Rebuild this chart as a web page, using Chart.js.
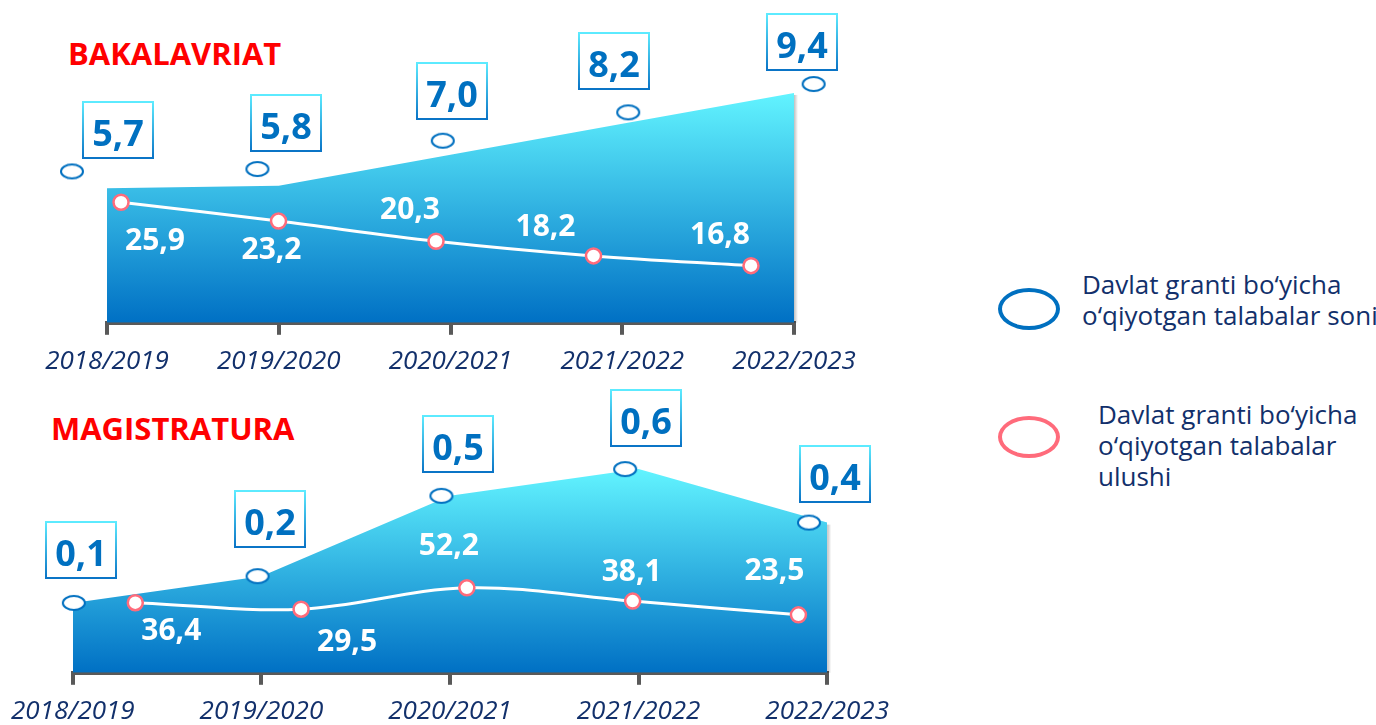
<!DOCTYPE html>
<html><head><meta charset="utf-8">
<script src="https://cdn.jsdelivr.net/npm/chart.js@4.4.1/dist/chart.umd.min.js"></script>
<style>
html,body{margin:0;padding:0;background:#fff;}
body{width:1376px;height:725px;overflow:hidden;position:relative;font-family:'Open Sans',sans-serif;}
.title{position:absolute;color:#FF0000;font-weight:700;font-size:31px;line-height:1;white-space:nowrap;}
.cv{position:absolute;left:0;}
.lgE{position:absolute;box-sizing:border-box;width:62px;height:42px;border-radius:50%;border:4px solid;}
.lgT{position:absolute;color:#12306B;font-size:26px;line-height:31px;white-space:nowrap;}
</style></head><body>
<div class="title" style="left:68px;top:38px">BAKALAVRIAT</div>
<div class="title" style="left:51px;top:413px">MAGISTRATURA</div>
<canvas id="c1" class="cv" style="top:0" width="900" height="388"></canvas>
<canvas id="c2" class="cv" style="top:385px" width="900" height="353"></canvas>
<div class="lgE" style="left:998px;top:288px;border-color:#0070C0"></div>
<div class="lgT" style="left:1082px;top:269px">Davlat granti bo‘yicha<br>o‘qiyotgan talabalar soni</div>
<div class="lgE" style="left:998px;top:416px;border-color:#FF6B7B"></div>
<div class="lgT" style="left:1098px;top:399px">Davlat granti bo‘yicha<br>o‘qiyotgan talabalar<br>ulushi</div>
<script>
// ---- data ----
const years = ['2018/2019', '2019/2020', '2020/2021', '2021/2022', '2022/2023'];
const bakSoni = [5.7, 5.8, 7.0, 8.2, 9.4];        // Davlat granti bo'yicha o'qiyotgan talabalar soni
const bakUlushi = [25.9, 23.2, 20.3, 18.2, 16.8]; // ... ulushi
const magSoni = [0.1, 0.2, 0.5, 0.6, 0.4];
const magUlushi = [36.4, 29.5, 52.2, 38.1, 23.5];

const NAVY = '#12306B', AX = '#595959', BLUE = '#0070C0', PINK = '#FF6B7B';
const fmt = v => v.toFixed(1).replace('.', ',');

function ellipseImg(stroke, fill, w, h, lw) {
  const c = document.createElement('canvas');
  c.width = w + lw * 2; c.height = h + lw * 2;
  const g = c.getContext('2d');
  g.beginPath();
  g.ellipse(c.width / 2, c.height / 2, w / 2, h / 2, 0, 0, Math.PI * 2);
  g.fillStyle = fill; g.fill();
  g.lineWidth = lw; g.strokeStyle = stroke; g.stroke();
  return c;
}
const ellImg = ellipseImg(BLUE, '#ffffff', 22, 14, 2);

const valueLabels = {
  id: 'valueLabels',
  beforeDatasetsDraw(chart) {
    const pts = chart.getDatasetMeta(0).data;
    const last = pts[pts.length - 1];
    const ctx = chart.ctx, b = chart.chartArea.bottom;
    ctx.save();
    const g = ctx.createLinearGradient(last.x, 0, last.x + 4, 0);
    g.addColorStop(0, 'rgba(0,0,0,0.25)'); g.addColorStop(1, 'rgba(0,0,0,0)');
    ctx.fillStyle = g;
    ctx.fillRect(last.x, last.y + 2, 4, b - last.y - 2);
    ctx.restore();
  },
  afterDatasetsDraw(chart, args, o) {
    const ctx = chart.ctx;
    const ds = chart.data.datasets;
    const em = chart.getDatasetMeta(1).data;
    const pm = chart.getDatasetMeta(2).data;
    ctx.save();
    ctx.textAlign = 'center';
    ctx.textBaseline = 'alphabetic';
    em.forEach((pt, i) => {
      const cx = Math.round(pt.x + o.boxOff[i][0]), cy = Math.round(pt.y + o.boxOff[i][1]);
      const w = 70, h = 56;
      ctx.fillStyle = '#fff';
      ctx.fillRect(cx - w / 2, cy - h / 2, w, h);
      const g = ctx.createLinearGradient(0, cy - h / 2, 0, cy + h / 2);
      g.addColorStop(0, '#5DEBFF'); g.addColorStop(1, '#0A74C6');
      ctx.strokeStyle = g; ctx.lineWidth = 2;
      ctx.strokeRect(cx - w / 2, cy - h / 2, w, h);
      ctx.fillStyle = BLUE;
      ctx.font = 'bold 36px "Open Sans"';
      ctx.fillText(fmt(ds[1].data[i].y), cx, cy + 3 + 0.357 * 36);
    });
    ctx.fillStyle = '#ffffff';
    ctx.font = 'bold 30px "Open Sans"';
    pm.forEach((pt, i) => {
      const cx = pt.x + o.lblOff[i][0], cy = pt.y + o.lblOff[i][1];
      ctx.fillText(fmt(ds[2].data[i].y), cx, cy + 0.357 * 30);
    });
    ctx.restore();
  }
};

function makePanel(id, soni, ulushi, P) {
  const maxV = Math.max(...soni);
  return new Chart(document.getElementById(id), {
    type: 'line',
    data: {
      labels: years,
      datasets: [
        {
          data: soni, xAxisID: 'x', yAxisID: 'y', order: 3,
          fill: 'start', borderWidth: 0, pointRadius: 0, tension: 0,
          backgroundColor: (c) => {
            const ch = c.chart, ca = ch.chartArea;
            if (!ca) return '#1aa0dc';
            const top = ch.scales.y.getPixelForValue(maxV);
            const g = ch.ctx.createLinearGradient(0, top, 0, ca.bottom);
            g.addColorStop(0, '#62F4FF');
            g.addColorStop(1, '#0070C4');
            return g;
          }
        },
        {
          type: 'bubble',
          data: soni.map((v, i) => ({ x: i, y: v })), xAxisID: 'xE', yAxisID: 'yE', order: 1,
          // image point style is drawn at its own size; the large radius only widens the in-area test
          pointStyle: ellImg, radius: 50, borderWidth: 0, hoverRadius: 0, clip: false
        },
        {
          data: ulushi.map((v, i) => ({ x: i, y: v })), xAxisID: 'xP', yAxisID: 'yP', order: 2,
          borderColor: '#ffffff', borderWidth: 3, tension: 0.35, fill: false,
          pointRadius: 7.5, pointBorderWidth: 2.5, pointBorderColor: PINK, pointBackgroundColor: '#ffffff',
          clip: false
        }
      ]
    },
    options: {
      responsive: false, animation: false, events: [],
      layout: { padding: P.padding, autoPadding: false },
      plugins: {
        legend: { display: false }, tooltip: { enabled: false },
        valueLabels: { boxOff: P.boxOff, lblOff: P.lblOff }
      },
      scales: {
        x: {
          type: 'category', offset: false, z: 1,
          grid: { display: true, drawOnChartArea: false, drawTicks: true, tickLength: 12, color: AX, lineWidth: 4 },
          border: { display: true, color: AX, width: 4 },
          ticks: { padding: P.tickPad, color: NAVY, font: { family: 'Open Sans', size: 26, style: 'italic' }, maxRotation: 0, autoSkip: false }
        },
        xE: { type: 'linear', axis: 'x', display: false, min: P.xE[0], max: P.xE[1] },
        xP: { type: 'linear', axis: 'x', display: false, min: P.xP[0], max: P.xP[1] },
        y: { type: 'linear', axis: 'y', display: false, min: P.y[0], max: P.y[1] },
        yE: { type: 'linear', axis: 'y', display: false, min: P.yE[0], max: P.yE[1] },
        yP: { type: 'linear', axis: 'y', display: false, min: P.yP[0], max: P.yP[1] }
      }
    },
    plugins: [valueLabels]
  });
}

makePanel('c1', bakSoni, bakUlushi, {
  padding: { left: 107, right: 106, top: 20, bottom: 0 }, tickPad: 11,
  xE: [0.189, 3.894], xP: [-0.089, 4.273],
  y: [0.48, 12.23], yE: [-0.71, 12.11], yP: [8.6, 52.05],
  boxOff: [[46, -41], [29, -46], [9, -50], [-14, -51], [-12, -42]],
  lblOff: [[34, 37], [-7, 27], [-26, -33], [-48, -31], [-31, -32]]
});
makePanel('c2', magSoni, magUlushi, {
  padding: { left: 71, right: 68, top: 15, bottom: 0 }, tickPad: 11,
  xE: [-0.0054, 4.099], xP: [-0.3767, 4.1733],
  y: [-0.161, 0.858], yE: [-0.161, 0.858], yP: [-38, 251.5],
  boxOff: [[7, -53], [12, -57], [17, -52], [21, -51], [26, -49]],
  lblOff: [[36, 27], [46, 31], [-18, -44], [-1, -31], [-24, -46]]
});
</script>
</body></html>
